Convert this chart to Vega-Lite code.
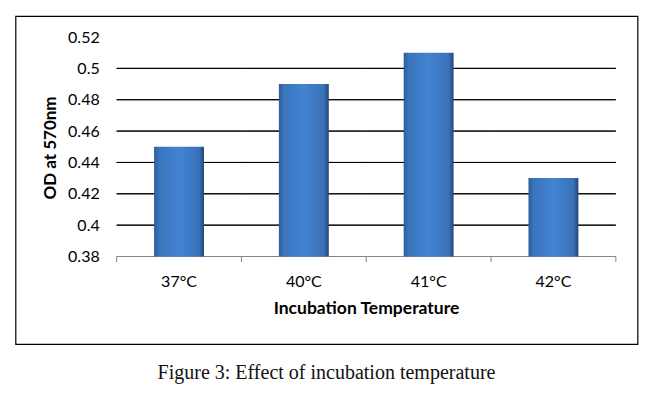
{
  "$schema": "https://vega.github.io/schema/vega-lite/v6.json",
  "width": 622,
  "height": 328,
  "autosize": "none",
  "padding": {"left": 15.5, "top": 16, "right": 30.5, "bottom": 66},
  "background": "white",
  "title": {
    "text": "Figure 3: Effect of incubation temperature",
    "orient": "bottom",
    "anchor": "middle",
    "font": "Liberation Serif",
    "fontSize": 20,
    "fontWeight": "normal",
    "color": "#111111",
    "offset": 19
  },
  "config": {
    "view": {"stroke": "black", "strokeWidth": 1.2},
    "axis": {"labelColor": "#000000", "titleColor": "#000000"}
  },
  "datasets": {
    "bars": [
      {"temp": "37°C", "od": 0.45},
      {"temp": "40°C", "od": 0.49},
      {"temp": "41°C", "od": 0.51},
      {"temp": "42°C", "od": 0.43}
    ],
    "grid": [
      {"v": 0.40, "temp": "37°C"}, {"v": 0.40, "temp": "40°C"}, {"v": 0.40, "temp": "41°C"}, {"v": 0.40, "temp": "42°C"},
      {"v": 0.42, "temp": "37°C"}, {"v": 0.42, "temp": "40°C"}, {"v": 0.42, "temp": "41°C"}, {"v": 0.42, "temp": "42°C"},
      {"v": 0.44, "temp": "37°C"}, {"v": 0.44, "temp": "40°C"}, {"v": 0.44, "temp": "41°C"}, {"v": 0.44, "temp": "42°C"},
      {"v": 0.46, "temp": "37°C"}, {"v": 0.46, "temp": "40°C"}, {"v": 0.46, "temp": "41°C"}, {"v": 0.46, "temp": "42°C"},
      {"v": 0.48, "temp": "37°C"}, {"v": 0.48, "temp": "40°C"}, {"v": 0.48, "temp": "41°C"}, {"v": 0.48, "temp": "42°C"},
      {"v": 0.50, "temp": "37°C"}, {"v": 0.50, "temp": "40°C"}, {"v": 0.50, "temp": "41°C"}, {"v": 0.50, "temp": "42°C"}
    ],
    "baseline": [
      {"v": 0.38, "temp": "37°C"}, {"v": 0.38, "temp": "40°C"}, {"v": 0.38, "temp": "41°C"}, {"v": 0.38, "temp": "42°C"}
    ]
  },
  "layer": [
    {
      "data": {"name": "grid"},
      "mark": {"type": "bar", "stroke": "black", "strokeWidth": 1, "fill": null, "width": {"band": 2.5}},
      "encoding": {
        "x": {
          "field": "temp",
          "type": "nominal",
          "sort": null,
          "scale": {"paddingInner": 0.6, "paddingOuter": 0.792, "align": 0.701},
          "axis": {
            "offset": -87.5,
            "orient": "bottom",
            "domain": false,
            "ticks": false,
            "tickSize": 0,
            "grid": false,
            "labelAngle": 0,
            "labelFont": "Lato",
            "labelFontSize": 16,
            "labelPadding": 17,
            "title": "Incubation Temperature",
            "titleFont": "Lato",
            "titleFontSize": 17.5,
            "titleFontWeight": "bold",
            "titlePadding": 10,
            "titleX": 350.5
          }
        },
        "y": {
          "field": "v",
          "type": "quantitative",
          "scale": {"domain": [0.3242, 0.5334], "nice": false, "zero": false},
          "axis": {
            "offset": -101.2,
            "values": [0.38, 0.4, 0.42, 0.44, 0.46, 0.48, 0.5, 0.52],
            "format": "~g",
            "domain": false,
            "ticks": false,
            "tickSize": 0,
            "grid": false,
            "labelFont": "Lato",
            "labelFontSize": 16,
            "labelPadding": 17.5,
            "title": "OD at 570nm",
            "titleFont": "Lato",
            "titleFontSize": 17,
            "titleFontWeight": "bold",
            "titlePadding": 8,
            "titleY": 131.5
          }
        },
        "y2": {"field": "v"}
      }
    },
    {
      "data": {"name": "baseline"},
      "mark": {"type": "bar", "stroke": "#868686", "strokeWidth": 1, "fill": null, "width": {"band": 2.5}},
      "encoding": {
        "x": {"field": "temp", "type": "nominal", "sort": null},
        "y": {"field": "v", "type": "quantitative"},
        "y2": {"field": "v"}
      }
    },
    {
      "data": {"name": "bars"},
      "mark": {"type": "rule", "stroke": "#868686", "strokeWidth": 1},
      "encoding": {
        "x": {"field": "temp", "type": "nominal", "sort": null, "bandPosition": -0.75},
        "y": {"datum": 0.38, "type": "quantitative"},
        "y2": {"datum": 0.3765}
      }
    },
    {
      "data": {"name": "bars"},
      "transform": [{"filter": "datum.temp == '42°C'"}],
      "mark": {"type": "rule", "stroke": "#868686", "strokeWidth": 1},
      "encoding": {
        "x": {"field": "temp", "type": "nominal", "sort": null, "bandPosition": 1.75},
        "y": {"datum": 0.38, "type": "quantitative"},
        "y2": {"datum": 0.3765}
      }
    },
    {
      "data": {"name": "bars"},
      "mark": {
        "type": "bar",
        "color": {
          "gradient": "linear",
          "x1": 0, "x2": 1, "y1": 0, "y2": 0,
          "stops": [
            {"offset": 0, "color": "#2d5c98"},
            {"offset": 0.1, "color": "#3a74bc"},
            {"offset": 0.5, "color": "#4283d2"},
            {"offset": 0.9, "color": "#3a72b8"},
            {"offset": 1, "color": "#234677"}
          ]
        }
      },
      "encoding": {
        "x": {"field": "temp", "type": "nominal", "sort": null},
        "y": {"field": "od", "type": "quantitative"},
        "y2": {"datum": 0.38}
      }
    }
  ]
}
